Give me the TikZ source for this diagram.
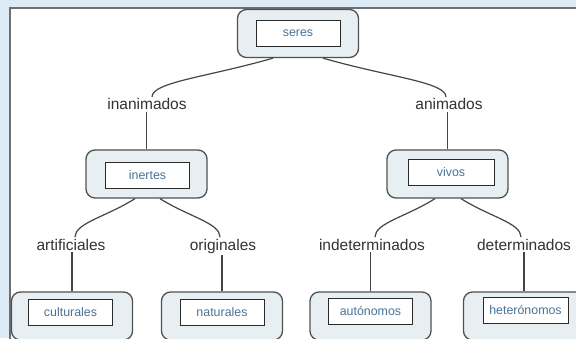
\documentclass[tikz,border=0pt]{standalone}
\usepackage{fontspec}
\setmainfont{Liberation Sans}
\usetikzlibrary{arrows.meta, positioning}
\definecolor{fondo}{HTML}{DCEBF6}
\definecolor{marco}{HTML}{6E6E6E}
\definecolor{rellenocaja}{HTML}{E8EFF3}
\definecolor{bordecaja}{HTML}{505050}
\definecolor{bordetexto}{HTML}{2A2A2A}
\definecolor{azultexto}{HTML}{4A7395}
\definecolor{grisrotulo}{HTML}{333333}
\definecolor{gristrazo}{HTML}{454545}

\begin{document}
\begin{tikzpicture}[x=1pt,y=1pt]
  % Define style for the boxes and labels
  \tikzstyle{caja}=[draw=bordecaja, fill=rellenocaja, line width=1.3pt, rounded corners=9pt, minimum width=121pt, minimum height=48pt, inner sep=0pt]
  \tikzstyle{texto}=[draw=bordetexto, fill=white, line width=0.9pt, minimum width=84pt, minimum height=26pt, inner sep=0pt, text=azultexto, font=\fontsize{12.4}{14}\selectfont]
  \tikzstyle{rotulo}=[text=grisrotulo, font=\fontsize{15.5}{18}\selectfont, inner sep=1.5pt, anchor=base]
  \tikzstyle{rama}=[draw=gristrazo, line width=1.2pt]

  % Background and frame
  \useasboundingbox (0,0) rectangle (576,338);
  \clip (0,0) rectangle (576,338);
  \fill[fondo] (0,0) rectangle (576,338);
  \filldraw[fill=white, draw=marco, line width=1.5pt] (10,-10) rectangle (590,330);

  % Boxes
  \node[caja] (seres) at (298,304.5) {};
  \node[texto] (seres-t) at (seres) {seres};

  \node[caja] (inertes) at (146.5,164) {};
  \node[texto] (inertes-t) at (147.5,163) {inertes};
  \node[caja] (vivos) at (447.5,164) {};
  \node[texto, minimum width=86pt] (vivos-t) at (451,166) {vivos};

  \begin{scope}[every node/.append style={minimum height=20pt}]
    \node[caja, minimum height=48pt] (culturales) at (72,22) {};
    \node[texto] (culturales-t) at (70.5,26) {culturales};
    \node[caja, minimum height=48pt] (naturales) at (222,22) {};
    \node[texto] (naturales-t) at (222,26) {naturales};
    \node[caja, minimum height=48pt] (autonomos) at (370.5,22) {};
    \node[texto] (autonomos-t) at (370.5,27) {autónomos};
    \node[caja, minimum height=48pt] (heteronomos) at (524,22) {};
    \node[texto, minimum width=85pt] (heteronomos-t) at (525.5,28) {heterónomos};
  \end{scope}

  % Labels
  \node[rotulo] (inanimados) at (147,228) {inanimados};
  \node[rotulo] (animados) at (449,228) {animados};
  \node[rotulo] (artificiales) at (71,88) {artificiales};
  \node[rotulo] (originales) at (223,88) {originales};
  \node[rotulo] (indeterminados) at (372,88) {indeterminados};
  \node[rotulo] (determinados) at (524,88) {determinados};

  % Connect boxes with labels
  \draw[rama] ([xshift=-25pt]seres.south) .. controls +(196:70) and +(90:15) .. ([xshift=5pt]inanimados.north);
  \draw[rama] ([xshift=25pt]seres.south) .. controls +(-16:70) and +(90:15) .. ([xshift=-3pt]animados.north);
  \draw[rama] (inertes.north |- inanimados.south) -- (inertes.north);
  \draw[rama] (vivos.north |- animados.south) -- (vivos.north);

  \draw[rama] ([xshift=-11.5pt]inertes.south) .. controls +(212:35) and +(90:14) .. ([xshift=4pt]artificiales.north);
  \draw[rama] ([xshift=13.5pt]inertes.south) .. controls +(-32:35) and +(90:14) .. ([xshift=-3pt]originales.north);
  \draw[rama] ([xshift=-12.5pt]vivos.south) .. controls +(212:35) and +(90:14) .. ([xshift=3pt]indeterminados.north);
  \draw[rama] ([xshift=13.5pt]vivos.south) .. controls +(-32:35) and +(90:14) .. ([xshift=-3pt]determinados.north);

  \draw[rama] (culturales.north |- artificiales.south) -- (culturales.north);
  \draw[rama] (naturales.north |- originales.south) -- (naturales.north);
  \draw[rama] (autonomos.north |- indeterminados.south) -- (autonomos.north);
  \draw[rama] (heteronomos.north |- determinados.south) -- (heteronomos.north);
\end{tikzpicture}
\end{document}
